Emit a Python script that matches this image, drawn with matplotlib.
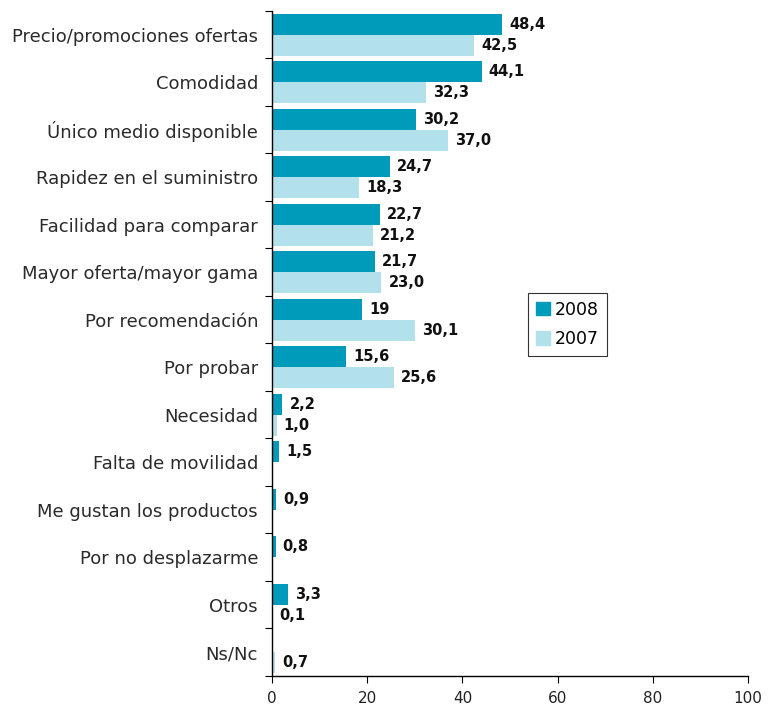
import numpy as np
import matplotlib.pyplot as plt

# motivos de compra, % de respuestas
categories = ["Precio/promociones ofertas", "Comodidad", "Único medio disponible",
              "Rapidez en el suministro", "Facilidad para comparar",
              "Mayor oferta/mayor gama", "Por recomendación", "Por probar",
              "Necesidad", "Falta de movilidad", "Me gustan los productos",
              "Por no desplazarme", "Otros", "Ns/Nc"]
v2008 = [48.4, 44.1, 30.2, 24.7, 22.7, 21.7, 19, 15.6, 2.2, 1.5, 0.9, 0.8, 3.3, None]
v2007 = [42.5, 32.3, 37.0, 18.3, 21.2, 23.0, 30.1, 25.6, 1.0, None, None, None, 0.1, 0.7]

c2008 = '#009bba'
c2007 = '#b2e0eb'


def fmt(v):
    # enteros sin decimal, el resto con coma decimal
    if isinstance(v, int):
        return str(v)
    return f"{v:.1f}".replace('.', ',')


fig = plt.figure(figsize=(7.69, 7.06), dpi=100)
ax = fig.add_axes([0.3537, 0.0425, 0.619, 0.942])

ind = np.arange(len(categories))
h = 0.44

for i, (a, b) in enumerate(zip(v2008, v2007)):
    if a is not None:
        ax.barh(i - h / 2, a, h, color=c2008)
        ax.annotate(fmt(a), (a, i - h / 2), xytext=(5, 0), textcoords='offset points',
                    va='center', ha='left', fontsize=10.5, fontweight='bold', color='#111111')
    if b is not None:
        ax.barh(i + h / 2, b, h, color=c2007)
        ax.annotate(fmt(b), (b, i + h / 2), xytext=(5, 0), textcoords='offset points',
                    va='center', ha='left', fontsize=10.5, fontweight='bold', color='#111111')

ax.set_xlim(0, 100)
ax.set_ylim(len(categories) - 0.5, -0.5)
ax.set_xticks(np.arange(0, 101, 20))
ax.set_yticks(ind)
ax.set_yticklabels(categories, fontsize=13, color='#2a2a2a')
ax.set_yticks(np.arange(-0.5, len(categories)), minor=True)
ax.tick_params(axis='y', which='major', length=0, pad=10)
ax.tick_params(axis='y', which='minor', length=5, direction='out', width=0.8)
ax.tick_params(axis='x', length=5, direction='out', width=0.8, labelsize=11,
               labelcolor='#222222', pad=6)

for s in ['top', 'right']:
    ax.spines[s].set_visible(False)
for s in ['left', 'bottom']:
    ax.spines[s].set_linewidth(1.0)

# leyenda
h1 = plt.Rectangle((0, 0), 1, 1, color=c2008)
h2 = plt.Rectangle((0, 0), 1, 1, color=c2007)
leg = ax.legend((h1, h2), ('2008', '2007'), loc='upper left',
                bbox_to_anchor=(0.6866, 0.585), bbox_transform=fig.transFigure,
                borderaxespad=0, fontsize=12.5, fancybox=False, framealpha=1,
                handlelength=0.8, handleheight=0.8, handletextpad=0.3,
                labelspacing=0.65, borderpad=0.45)
leg.get_frame().set_edgecolor('#333333')
leg.get_frame().set_linewidth(0.8)

fig.savefig('out.png', dpi=100)
